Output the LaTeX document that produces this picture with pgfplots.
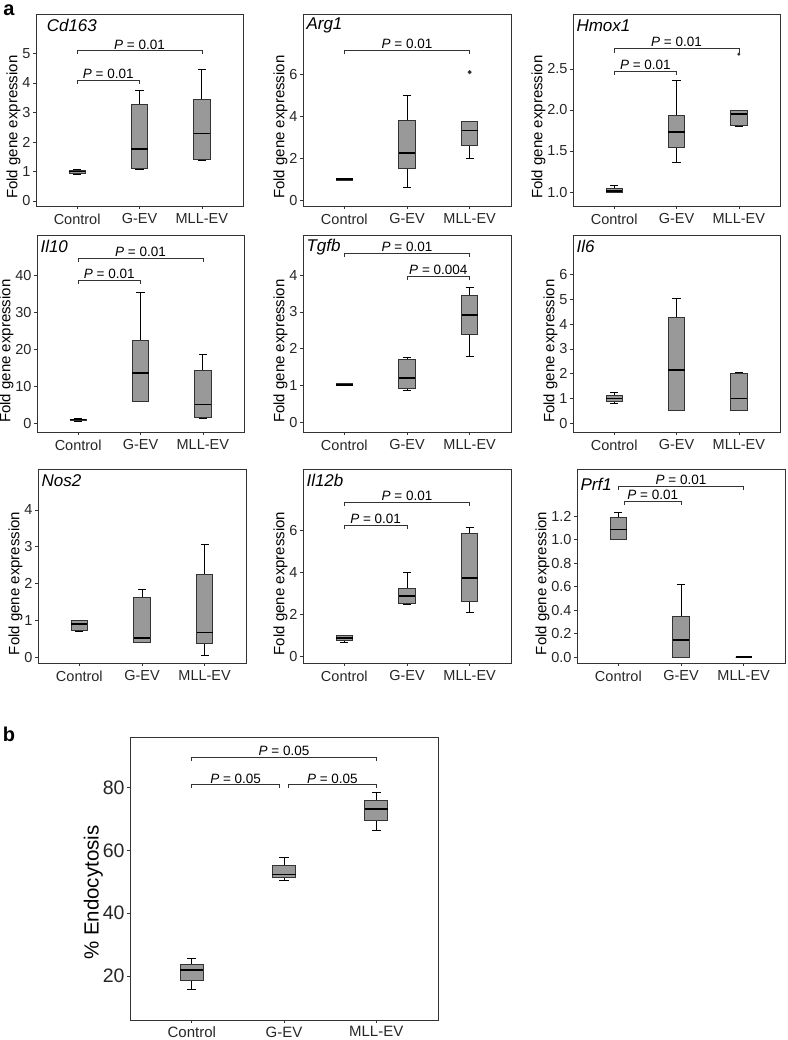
\documentclass[border=0pt]{standalone}
\usepackage{fontspec}
\setmainfont{Liberation Sans}
\usepackage{pgfplots}
\pgfplotsset{compat=1.18}
\usepgfplotslibrary{statistics}
\definecolor{boxfill}{HTML}{999999}
\definecolor{frame}{HTML}{333333}

% one box: position, lower whisker, Q1, median, Q3, upper whisker
\newcommand{\bx}[6]{\addplot[boxplot prepared={draw position=#1, lower whisker=#2, lower quartile=#3, median=#4, upper quartile=#5, upper whisker=#6}] coordinates {};}
% significance bracket: x1, x2, xmid, line y, tip y, p value
\newcommand{\brk}[6]{%
  \draw[frame, line width=0.7pt] (axis cs:#1,#5) -- (axis cs:#1,#4) -- (axis cs:#2,#4) -- (axis cs:#2,#5);
  \node[above, inner sep=1.5pt, font=\fontsize{13.5}{15}\selectfont] at (axis cs:#3,#4) {\textit{P} = #6};}

\tikzset{gene/.style={anchor=west, font=\fontsize{17}{19}\selectfont\itshape}}

\pgfplotsset{
  panel/.style={
    scale only axis, anchor=north west, clip=false,
    width=207pt, height=192pt,
    xmin=0.34, xmax=3.66,
    xtick={1,2,3}, xticklabels={Control,G-EV,MLL-EV},
    xtick pos=left, ytick pos=left,
    tick align=outside, major tick length=3pt,
    minor tick num=0,
    /pgf/number format/assume math mode=true,
    tick style={frame, line width=0.7pt},
    axis line style={frame, line width=0.9pt},
    tick label style={font=\fontsize{14.5}{16}\selectfont, text=black!85},
    xticklabel style={yshift=-1pt},
    yticklabel style={xshift=1pt},
    ylabel={Fold gene expression},
    ylabel style={font=\fontsize{15}{17}\selectfont, at={(ticklabel cs:0.41)}, yshift=-5pt},
    boxplot/draw direction=y,
    boxplot/box extend=0.26,
    boxplot/whisker extend=0.13,
    boxplot/every box/.style={draw=frame, fill=boxfill, line width=0.8pt},
    boxplot/every median/.style={draw=black, line width=1.8pt},
    boxplot/every whisker/.style={draw=black, line width=0.8pt},
    every axis plot/.append style={mark=*, mark size=1.3pt, mark options={fill=black!80, draw=black!80}},
  },
}

\begin{document}
\begin{tikzpicture}
\path[use as bounding box] (0pt,0pt) rectangle (787pt,1040pt);

\node[font=\fontsize{20}{22}\selectfont\bfseries] at (9pt,1030pt) {a};
\node[font=\fontsize{20}{22}\selectfont\bfseries] at (9pt,306pt) {b};

% ---- row 1 ----
\begin{axis}[panel, at={(36pt,1026pt)}, ymin=-0.17, ymax=6.34, ytick={0,1,2,3,4,5}]
\bx{1}{0.90}{0.95}{1.00}{1.04}{1.08}
\bx{2}{1.08}{1.12}{1.77}{3.27}{3.76}
\bx{3}{1.37}{1.41}{2.29}{3.45}{4.47}
\brk{1}{2}{1.5}{4.10}{3.98}{0.01}
\brk{1}{3}{2}{5.09}{4.98}{0.01}
\node[gene] at (rel axis cs:0.035,0.94) {Cd163};
\end{axis}

\begin{axis}[panel, at={(303pt,1026pt)}, width=208pt, ymin=-0.27, ymax=8.87, ytick={0,2,4,6}]
\bx{1}{0.95}{0.97}{1.00}{1.04}{1.06}
\bx{2}{0.62}{1.52}{2.27}{3.79}{4.98}
\addplot[boxplot prepared={draw position=3, lower whisker=1.98, lower quartile=2.60, median=3.32, upper quartile=3.76, upper whisker=3.78}, mark size=1.8pt] table[row sep=\\, y index=0] {6.10\\};
\brk{1}{3}{2}{7.13}{6.97}{0.01}
\node[gene] at (rel axis cs:0.0,0.94) {Arg1};
\end{axis}

\begin{axis}[panel, at={(573pt,1026pt)}, ymin=0.83, ymax=3.17, ytick={1,1.5,2,2.5},
  yticklabel style={/pgf/number format/.cd, fixed, fixed zerofill, precision=1}]
\bx{1}{0.99}{0.995}{1.01}{1.04}{1.08}
\bx{2}{1.36}{1.545}{1.73}{1.93}{2.36}
\addplot[boxplot prepared={draw position=3, lower whisker=1.80, lower quartile=1.81, median=1.95, upper quartile=1.99, upper whisker=2.00}, mark size=1.3pt] table[row sep=\\, y index=0] {2.68\\};
\brk{1}{2}{1.5}{2.47}{2.43}{0.01}
\brk{1}{3}{2}{2.75}{2.70}{0.01}
\node[gene] at (rel axis cs:0.0,0.94) {Hmox1};
\end{axis}

% ---- row 2 ----
\begin{axis}[panel, at={(37pt,805pt)}, height=197pt, ymin=-2.35, ymax=50.9, ytick={0,10,20,30,40}]
\bx{1}{0.6}{0.85}{1.0}{1.15}{1.2}
\bx{2}{6.0}{6.0}{13.5}{22.5}{35.4}
\bx{3}{1.4}{1.5}{5.1}{14.4}{18.5}
\brk{1}{2}{1.5}{38.7}{37.7}{0.01}
\brk{1}{3}{2}{44.6}{43.7}{0.01}
\node[gene] at (rel axis cs:0.0,0.94) {Il10};
\end{axis}

\begin{axis}[panel, at={(303pt,805pt)}, width=208pt, height=197pt, ymin=-0.26, ymax=5.09, ytick={0,1,2,3,4}]
\bx{1}{1.00}{1.00}{1.02}{1.05}{1.05}
\bx{2}{0.88}{0.92}{1.20}{1.72}{1.76}
\bx{3}{1.79}{2.40}{2.91}{3.44}{3.67}
\brk{1}{3}{2}{4.58}{4.49}{0.01}
\brk{2}{3}{2.5}{3.96}{3.87}{0.004}
\node[gene] at (rel axis cs:0.0,0.94) {Tgfb};
\end{axis}

\begin{axis}[panel, at={(573pt,805pt)}, height=197pt, ymin=-0.35, ymax=7.59, ytick={0,1,2,3,4,5,6}]
\bx{1}{0.81}{0.90}{1.00}{1.12}{1.25}
\bx{2}{0.51}{0.51}{2.16}{4.28}{5.04}
\bx{3}{0.51}{0.51}{1.00}{2.03}{2.05}
\node[gene] at (rel axis cs:0.0,0.94) {Il6};
\end{axis}

% ---- row 3 ----
\begin{axis}[panel, at={(38pt,571pt)}, width=208pt, height=194pt, ymin=-0.155, ymax=5.11, ytick={0,1,2,3,4}]
\bx{1}{0.70}{0.74}{0.90}{1.00}{1.00}
\bx{2}{0.40}{0.40}{0.53}{1.62}{1.85}
\bx{3}{0.06}{0.38}{0.67}{2.26}{3.07}
\node[gene] at (rel axis cs:0.0,0.94) {Nos2};
\end{axis}

\begin{axis}[panel, at={(303pt,571pt)}, width=208pt, height=194pt, ymin=-0.3, ymax=8.94, ytick={0,2,4,6}]
\bx{1}{0.68}{0.76}{0.90}{1.01}{1.02}
\bx{2}{2.50}{2.56}{2.89}{3.24}{4.00}
\bx{3}{2.12}{2.64}{3.76}{5.88}{6.16}
\brk{1}{2}{1.5}{6.24}{6.08}{0.01}
\brk{1}{3}{2}{7.35}{7.19}{0.01}
\node[gene] at (rel axis cs:0.0,0.94) {Il12b};
\end{axis}

\begin{axis}[panel, at={(577pt,571pt)}, width=208pt, height=194pt, ymin=-0.048, ymax=1.60, ytick={0,0.2,0.4,0.6,0.8,1.0,1.2},
  yticklabel style={/pgf/number format/.cd, fixed, fixed zerofill, precision=1}]
\bx{1}{1.00}{1.00}{1.086}{1.19}{1.23}
\bx{2}{0.00}{0.00}{0.144}{0.345}{0.62}
\bx{3}{0.00}{0.00}{0.00}{0.00}{0.00}
\brk{1.1}{2}{1.55}{1.327}{1.293}{0.01}
\brk{1}{3}{2}{1.454}{1.42}{0.01}
\node[gene] at (rel axis cs:0.0,0.92) {Prf1};
\end{axis}

% ---- panel b ----
\begin{axis}[panel, at={(130pt,303pt)}, width=308pt, height=283pt,
  xmin=0.33, xmax=3.67, ymin=6.1, ymax=96.0, ytick={20,40,60,80},
  boxplot/box extend=0.25, boxplot/whisker extend=0.1,
  xticklabel style={font=\fontsize{15}{17}\selectfont, yshift=1pt},
  yticklabel style={font=\fontsize{19.5}{21}\selectfont},
  ylabel={\% Endocytosis}, ylabel style={font=\fontsize{20.5}{22}\selectfont, at={(ticklabel cs:0.45)}, yshift=-2pt}]
\bx{1}{15.7}{18.7}{22.0}{23.9}{25.8}
\bx{2}{50.6}{51.4}{52.3}{55.1}{57.9}
\bx{3}{66.2}{69.5}{73.0}{75.7}{78.4}
\brk{1}{3}{2}{89.5}{88.3}{0.05}
\brk{1}{1.95}{1.475}{80.8}{79.8}{0.05}
\brk{2.05}{3}{2.525}{80.8}{79.8}{0.05}
\end{axis}
\end{tikzpicture}
\end{document}
